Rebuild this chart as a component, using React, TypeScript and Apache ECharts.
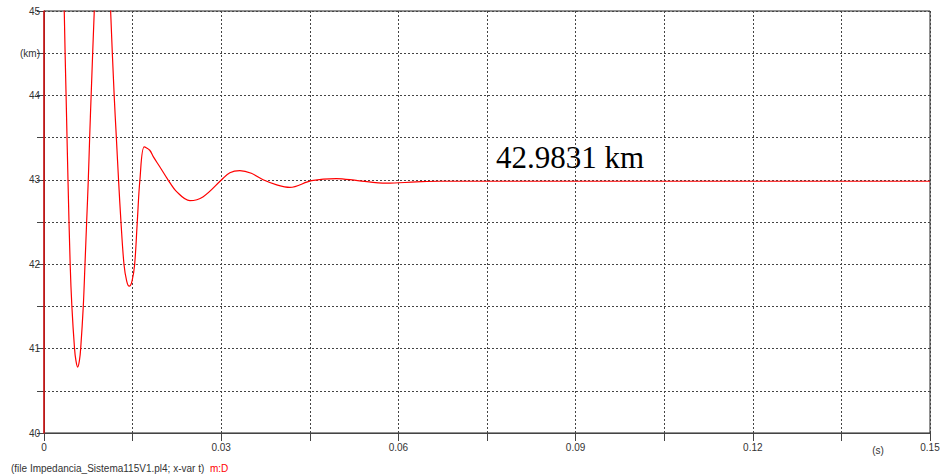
import React, { useEffect, useRef } from "react";
import * as echarts from "echarts";

// time (s) and computed distance (km)
const timeS = [
  0, 0, 0.0012, 0.0022, 0.003, 0.00343, 0.00374, 0.00406, 0.00443, 0.00472,
  0.00517, 0.0054, 0.0057, 0.006, 0.00621, 0.00665, 0.00694, 0.00722, 0.0075, 0.00773,
  0.00798, 0.00851, 0.0091, 0.0099, 0.0106, 0.01128, 0.01188, 0.01225, 0.01262, 0.01303,
  0.01354, 0.014, 0.01443, 0.0149, 0.01535, 0.01579, 0.01624, 0.01697, 0.0179, 0.0185,
  0.0196, 0.021, 0.02245, 0.0247, 0.02696, 0.03007, 0.03147, 0.03316, 0.0351, 0.0371,
  0.0394, 0.0416, 0.0453, 0.0495, 0.0531, 0.058, 0.063, 0.067, 0.15,
];
const distKm = [
  39.8, 47, 50, 49.5, 47.2, 45.0, 44.0, 43.0, 42.0, 41.5,
  41.0, 40.86, 40.78, 40.86, 41.0, 41.5, 42.0, 42.5, 43.0, 43.5,
  44.0, 45.0, 46.0, 46.5, 46.3, 45.0, 44.0, 43.5, 43.0, 42.5,
  42.0, 41.8, 41.74, 41.8, 42.0, 42.5, 43.0, 43.39, 43.35, 43.274,
  43.155, 43.0, 42.86, 42.753, 42.8, 43.0, 43.084, 43.108, 43.077, 43.0,
  42.94, 42.91, 42.99, 43.015, 42.99, 42.96, 42.975, 42.983, 42.9831,
];

const xTickStep = 0.015;
const yTickStep = 0.5;
const annotation = "42.9831 km";
const footerText = "(file Impedancia_Sistema115V1.pl4; x-var t)";
const footerTag = "m:D";
const xUnit = "(s)";
const yUnit = "(km)";

export default function App() {
  const ref = useRef<HTMLDivElement>(null);
  useEffect(() => {
    if (!ref.current) return;
    const chart = echarts.init(ref.current, null, { renderer: "svg" });
    const data = timeS.map((t, i) => [t, distKm[i]]);
    const labelFont = "Liberation Sans";
    const gridLine = { show: true, lineStyle: { color: "#444", type: [2, 2] as any, width: 1 } };
    chart.setOption({
      animation: false,
      backgroundColor: "#fff",
      grid: { left: 44, right: 13, top: 11, bottom: 43, show: true, borderColor: "#222", borderWidth: 1 },
      xAxis: {
        type: "value",
        min: 0,
        max: 0.15,
        interval: xTickStep,
        axisLine: { show: true, lineStyle: { color: "#444" } },
        axisTick: { show: true, length: 8, lineStyle: { color: "#444" } },
        splitLine: gridLine,
        axisLabel: {
          color: "#333",
          fontFamily: labelFont,
          fontSize: 10,
          margin: 9,
          formatter: (v: number) => {
            const idx = Math.round(v / xTickStep);
            if (idx % 2 === 0) return idx === 0 ? "0" : String(+(v.toFixed(2)));
            return "";
          },
        },
      },
      yAxis: {
        type: "value",
        min: 40,
        max: 45,
        interval: yTickStep,
        axisLine: { show: true, lineStyle: { color: "#444" } },
        axisTick: { show: true, length: 7, lineStyle: { color: "#444" } },
        splitLine: gridLine,
        axisLabel: {
          color: "#333",
          fontFamily: labelFont,
          fontSize: 10,
          margin: 4,
          formatter: (v: number) => {
            if (Math.abs(v - Math.round(v)) < 1e-6) return String(Math.round(v));
            if (Math.abs(v - 44.5) < 1e-6) return yUnit;
            return "";
          },
        },
      },
      series: [
        {
          type: "line",
          data,
          showSymbol: false,
          smooth: 0.35,
          clip: true,
          z: 5,
          lineStyle: { color: "#ff0000", width: 1.2 },
        },
      ],
      graphic: [
        {
          type: "text",
          x: 496,
          y: 157,
          style: {
            text: annotation,
            font: "31px 'Liberation Serif'",
            fill: "#000",
            textVerticalAlign: "middle",
          },
        },
        {
          type: "text",
          x: 878,
          y: 450,
          style: {
            text: xUnit,
            font: "10px 'Liberation Sans'",
            fill: "#333",
            textAlign: "center",
            textVerticalAlign: "middle",
          },
        },
        {
          type: "text",
          x: 11,
          y: 468,
          style: {
            text: footerText,
            font: "10px 'Liberation Sans'",
            fill: "#333",
            textVerticalAlign: "middle",
          },
        },
        {
          type: "text",
          x: 210,
          y: 468,
          style: {
            text: footerTag,
            font: "10px 'Liberation Sans'",
            fill: "#ff0000",
            textVerticalAlign: "middle",
          },
        },
      ],
    });
    return () => chart.dispose();
  }, []);
  return (
    <div
      ref={ref}
      style={{ position: "fixed", left: 0, top: 0, width: 943, height: 476 }}
    />
  );
}
